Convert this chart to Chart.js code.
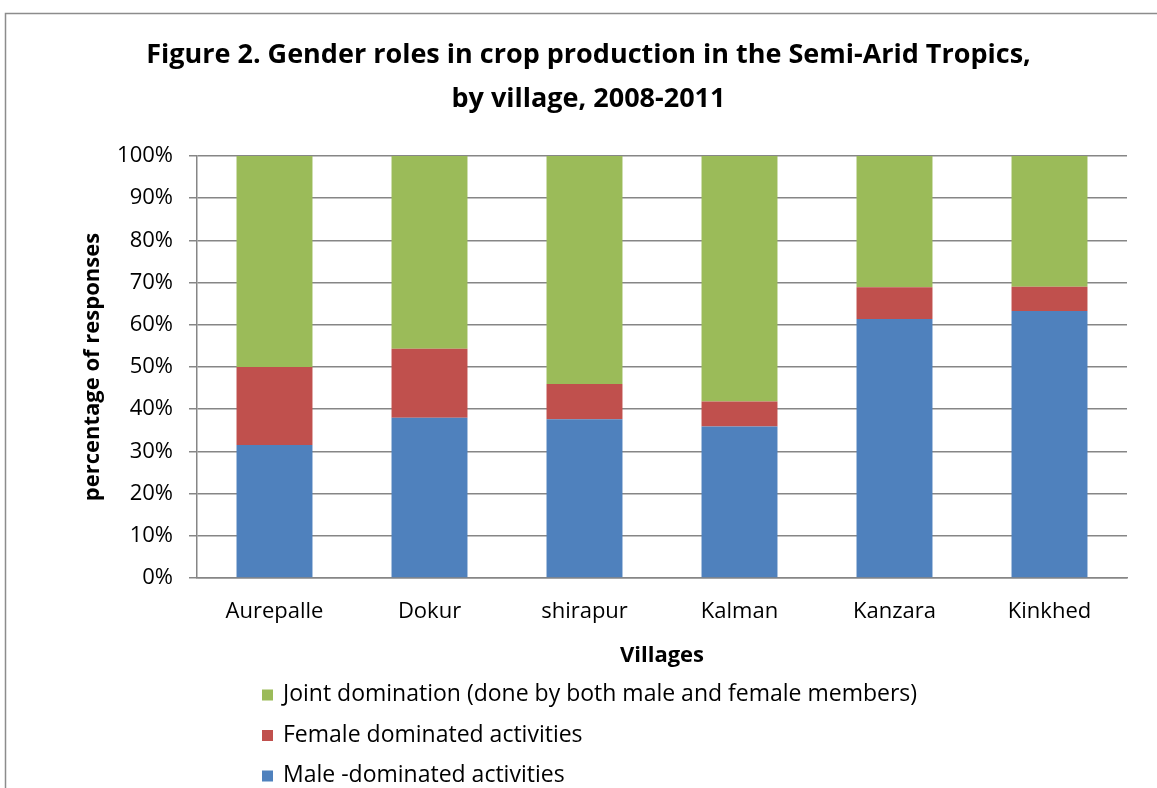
<!DOCTYPE html>
<html>
<head>
<meta charset="utf-8">
<script src="https://cdn.jsdelivr.net/npm/chart.js@4.4.1/dist/chart.umd.min.js"></script>
<style>
  html, body { margin: 0; padding: 0; background: #ffffff; }
  #wrap { position: relative; width: 1157px; height: 788px; }
  canvas { display: block; }
</style>
</head>
<body>
<div id="wrap"><canvas id="c" width="1157" height="788"></canvas></div>
<script>
const villages = ['Aurepalle', 'Dokur', 'shirapur', 'Kalman', 'Kanzara', 'Kinkhed'];
const maleDominated = [31.5, 38.0, 37.6, 35.9, 61.4, 63.3];
const femaleDominated = [18.5, 16.3, 8.4, 5.9, 7.5, 5.7];
const jointDomination = [50.0, 45.7, 54.0, 58.2, 31.1, 31.0];
const yTicks = [0, 10, 20, 30, 40, 50, 60, 70, 80, 90, 100];

const seriesNames = ['Male -dominated activities', 'Female dominated activities', 'Joint domination (done by both male and female members)'];
const seriesColors = ['#4F81BD', '#C0504D', '#9BBB59'];

const FONT = '"Open Sans", Lato, sans-serif';
const GRID = '#868686';

const framePlugin = {
  id: 'frame',
  afterDraw(chart) {
    const ctx = chart.ctx;
    ctx.save();
    ctx.strokeStyle = '#8c8c8c';
    ctx.lineWidth = 1.5;
    ctx.beginPath();
    ctx.moveTo(5.5, 790);
    ctx.lineTo(5.5, 13.5);
    ctx.lineTo(1160, 13.5);
    ctx.stroke();
    ctx.restore();
  }
};

const legendPlugin = {
  id: 'vlegend',
  afterDraw(chart) {
    const ctx = chart.ctx;
    const ds = chart.data.datasets.slice().reverse();
    const base = chart.scales.x.bottom;
    ctx.save();
    ctx.font = '23px ' + FONT;
    ctx.textBaseline = 'middle';
    ctx.textAlign = 'left';
    ds.forEach((d, i) => {
      const y = base + 21.5 + i * 40.5;
      ctx.fillStyle = d.backgroundColor;
      ctx.fillRect(262, y - 5, 11, 11);
      ctx.fillStyle = '#000000';
      ctx.fillText(d.label, 283, y);
    });
    ctx.restore();
  }
};

new Chart(document.getElementById('c'), {
  type: 'bar',
  data: {
    labels: villages,
    datasets: [
      { label: seriesNames[0], data: maleDominated, backgroundColor: seriesColors[0] },
      { label: seriesNames[1], data: femaleDominated, backgroundColor: seriesColors[1] },
      { label: seriesNames[2], data: jointDomination, backgroundColor: seriesColors[2] }
    ]
  },
  options: {
    responsive: false,
    animation: false,
    devicePixelRatio: 1,
    layout: { padding: { left: 50, right: 30, top: 0, bottom: 115 } },
    datasets: { bar: { barPercentage: 0.98, categoryPercentage: 0.5, borderWidth: 0 } },
    plugins: {
      legend: { display: false },
      tooltip: { enabled: false },
      title: {
        display: true,
        text: ['Figure 2. Gender roles in crop production in the Semi-Arid Tropics,', 'by village, 2008-2011'],
        color: '#000000',
        font: { family: FONT, size: 27, weight: 'bold', lineHeight: 1.63 },
        padding: { top: 33, bottom: 35 }
      }
    },
    scales: {
      x: {
        stacked: true,
        grid: { display: false, drawTicks: false },
        border: { display: true, color: GRID, width: 1.5 },
        ticks: { color: '#000000', font: { family: FONT, size: 22 }, padding: 21, maxRotation: 0 },
        title: { display: true, text: 'Villages', color: '#000000', font: { family: FONT, size: 22, weight: 'bold' }, padding: { top: 4, bottom: 4 } },
        afterFit(scale) { scale.height = 95; }
      },
      y: {
        stacked: true,
        min: 0,
        max: 100,
        afterBuildTicks(scale) { scale.ticks = yTicks.map(v => ({ value: v })); },
        grid: { color: GRID, lineWidth: 1.5, drawTicks: true, tickLength: 8, tickColor: GRID },
        border: { display: true, color: GRID, width: 1.5 },
        ticks: { color: '#000000', font: { family: FONT, size: 22 }, padding: 16, callback: v => v + '%' },
        title: { display: true, text: 'percentage of responses', color: '#000000', font: { family: FONT, size: 22, weight: 'bold' }, padding: { top: 30, bottom: 0 } },
        afterFit(scale) { scale.width = 147; }
      }
    }
  },
  plugins: [framePlugin, legendPlugin]
});
</script>
</body>
</html>
